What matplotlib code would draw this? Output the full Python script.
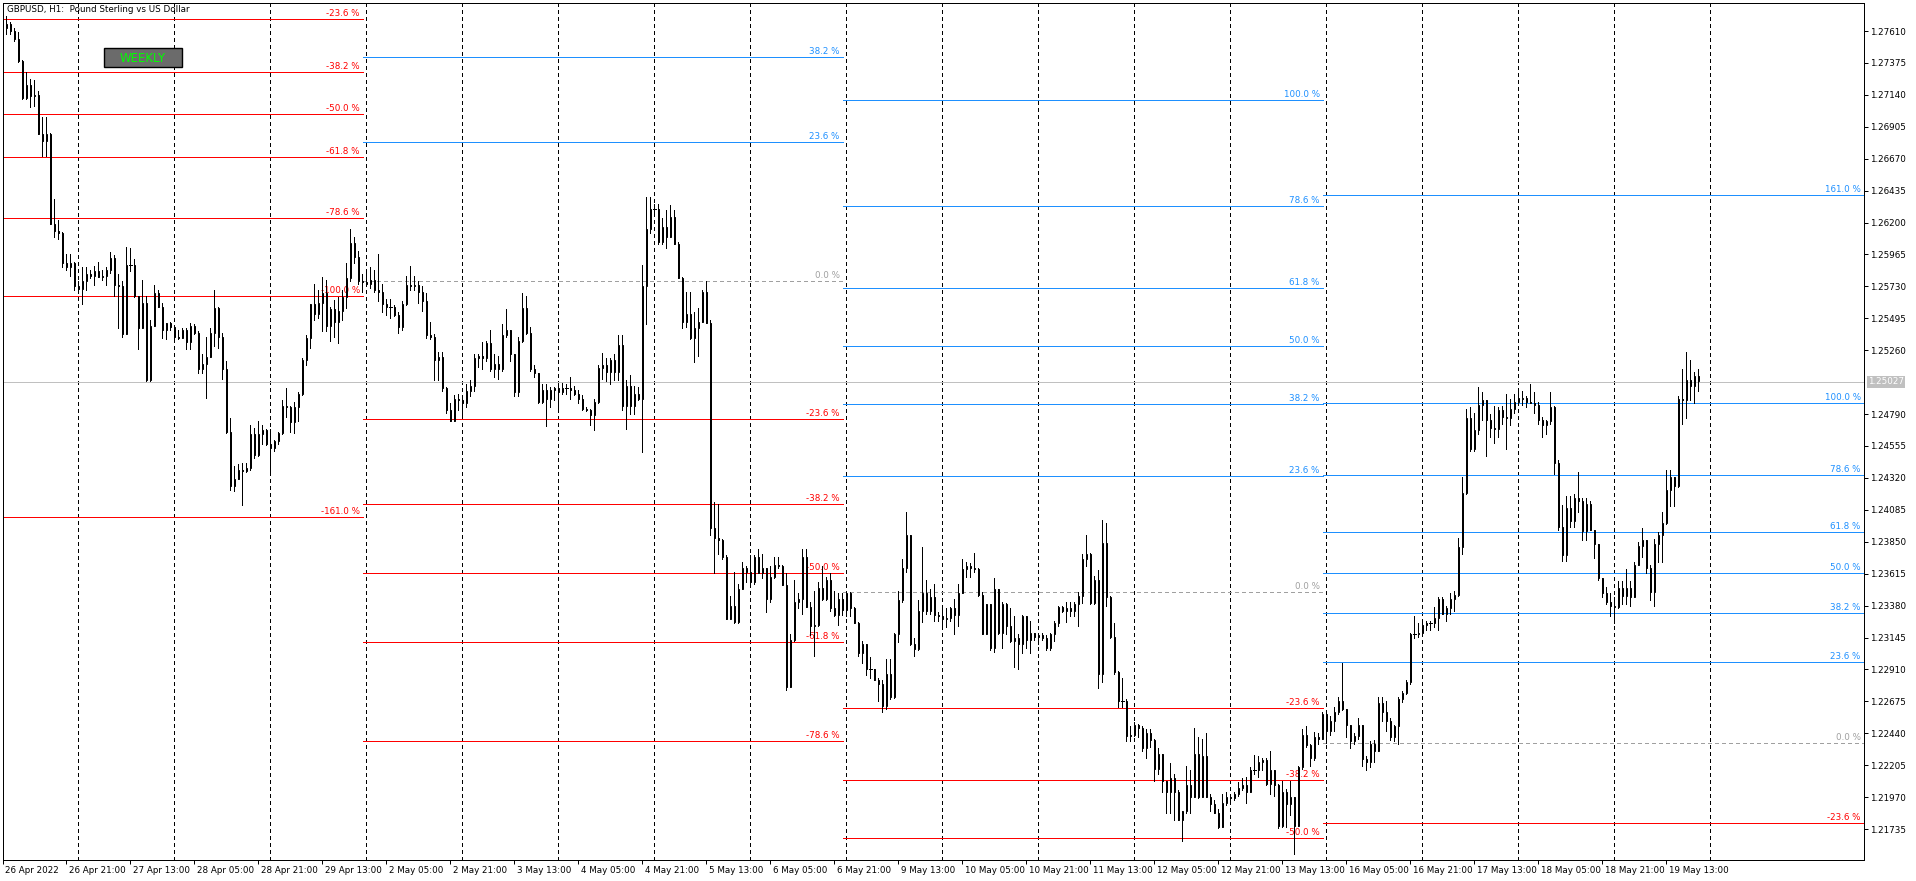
import numpy as np
import matplotlib
matplotlib.use('Agg')
import matplotlib.pyplot as plt
from matplotlib.patches import Rectangle
import matplotlib.transforms as mtransforms

# GBPUSD H1 bars, 26 Apr 2022 05:00 .. 19 May 2022 21:00 (weekends skipped)
# prices in pips above 1.2000
opens = [745,763,766,761,755,739,712,721,713,714, 685,680,685,619,614,612,590,587,590,573,
         571,577,582,581,584,580,581,585,594,574, 573,538,589,589,566,542,561,504,544,568,
         558,541,546,543,536,535,541,532,544,539, 512,516,521,539,557,536,512,466,426,431,
         438,437,439,464,449,464,467,457,454,459, 465,485,484,473,484,494,519,535,560,553,
         561,568,544,556,547,555,565,579,605,595, 577,576,575,578,570,569,560,558,558,552,
         543,560,574,573,574,569,562,537,536,519, 521,498,482,474,490,489,487,496,500,520,
         522,520,531,512,516,512,537,541,523,495, 533,557,539,512,509,488,497,490,497,498,
         495,498,498,497,494,490,483,482,478,488, 513,515,510,519,510,530,485,500,485,494,
         490,573,615,630,630,606,617,609,624,604, 579,547,553,535,542,547,569,546,395,388,
         386,374,328,338,326,350,366,363,355,374, 362,366,343,359,368,367,353,278,313,341,
         343,374,337,323,324,351,343,357,336,331, 343,335,347,336,325,303,310,291,291,283,
         280,264,288,271,317,342,366,390,310,306, 334,347,334,344,331,330,328,329,336,331,
         347,365,367,366,365,346,317,339,307,350, 318,339,323,312,314,310,330,313,318,315,
         316,314,307,317,325,337,334,336,334,339, 345,372,376,340,357,288,384,344,315,289,
         268,268,242,243,250,248,233,244,239,218, 229,209,201,211,201,180,187,206,197,229,
         197,227,197,192,185,175,193,197,196,199, 204,206,201,217,217,223,224,207,217,206,
         176,201,192,197,176,219,243,235,226,241, 240,258,246,253,260,268,262,250,238,242,
         250,225,223,236,231,266,260,253,241,249, 269,274,282,317,317,318,324,325,325,329,
         343,332,336,343,346,381,421,476,453,467, 486,489,475,469,468,482,477,476,483,488,
         490,491,488,487,486,475,471,474,484,443, 396,375,410,400,417,415,393,413,394,383,
         358,347,341,338,337,351,345,351,344,368, 382,386,366,348,383,390,399,423,433,426,
         490,489,504,500,507]
highs = [764,772,768,763,760,740,731,726,725,717, 698,698,686,637,622,613,597,597,591,577,
         587,587,585,588,591,585,587,598,596,582, 577,602,601,593,566,578,566,548,574,570,
         561,546,547,543,541,542,542,546,545,540, 523,536,542,570,558,539,518,476,441,442,
         443,443,471,469,474,471,468,468,460,466, 489,498,485,488,495,520,537,560,575,570,
         580,578,558,563,565,570,590,615,609,599, 582,584,587,585,597,575,564,564,559,554,
         562,581,588,581,577,573,568,547,538,525, 525,499,487,493,494,493,501,504,523,523,
         532,533,541,523,522,545,556,541,523,536, 568,566,543,515,509,501,501,499,499,501,
         502,501,506,500,497,493,484,483,490,515, 524,520,520,523,537,537,504,508,500,499,
         589,639,639,634,634,623,629,633,629,606, 580,569,569,554,557,570,577,548,414,413,
         387,375,345,363,354,370,367,375,375,380, 376,366,367,374,374,368,362,317,357,347,
         380,380,341,349,355,367,359,362,349,347, 347,348,348,337,326,312,310,300,291,285,
         283,299,299,318,349,372,407,390,314,342, 381,357,350,354,333,337,336,337,343,354,
         372,370,369,377,366,348,339,339,358,350, 341,340,336,330,317,331,330,327,318,317,
         318,316,318,327,338,338,341,341,341,348, 376,390,377,360,364,401,399,345,325,290,
         285,269,249,252,251,249,247,247,240,233, 229,209,222,214,202,187,220,217,248,241,
         240,244,199,195,188,199,201,198,201,208, 211,212,219,228,227,226,226,231,217,207,
         209,203,209,197,220,247,249,236,245,244, 260,260,257,263,271,296,262,250,244,255,
         250,227,238,239,271,271,268,255,250,271, 275,283,318,330,325,326,327,327,337,344,
         344,338,347,349,388,433,483,484,480,499, 495,489,479,485,484,485,494,490,494,495,
         496,492,501,495,488,477,475,495,485,445, 412,419,419,420,436,417,417,415,394,383,
         358,352,347,344,356,356,365,356,370,385, 395,386,368,387,392,407,438,438,433,492,
         512,525,519,510,512]
lows = [745,759,759,754,738,711,711,705,706,685, 669,669,619,609,608,587,585,581,570,569,
        560,570,579,574,580,578,574,583,566,542, 536,538,584,565,527,542,503,503,544,558,
        535,534,541,533,534,535,527,527,538,509, 509,491,521,529,528,505,465,423,422,431,
        412,436,438,447,448,457,456,436,452,457, 464,477,466,465,474,493,515,528,548,550,
        540,540,533,536,531,548,557,577,590,575, 569,574,572,569,562,554,552,550,551,539,
        541,559,570,570,561,555,535,534,504,504, 496,480,474,474,482,478,484,492,496,514,
        512,518,511,506,505,511,536,518,492,492, 532,538,511,506,487,487,470,484,489,483,
        494,494,490,493,487,482,481,471,467,487, 505,503,501,504,504,482,468,479,479,489,
        451,545,612,625,604,604,601,609,604,579, 542,543,534,517,522,547,546,390,362,376,
        372,328,328,325,325,350,355,354,354,362, 358,333,341,358,366,353,276,278,312,336,
        332,337,316,301,323,342,342,334,330,324, 331,330,330,325,301,296,287,285,283,268,
        260,262,269,270,311,341,363,309,301,305, 326,332,332,327,327,321,322,327,317,323,
        347,359,359,363,345,317,317,305,304,317, 307,317,311,293,291,303,307,303,313,310,
        313,305,305,312,323,333,326,330,330,323, 340,367,339,339,277,282,338,314,288,263,
        263,238,238,242,241,231,226,234,209,214, 201,185,185,180,180,165,185,185,197,196,
        197,197,187,185,174,175,191,193,195,198, 202,193,201,214,212,217,206,199,198,174,
        175,175,184,155,176,218,234,220,224,236, 240,237,243,246,258,261,241,233,236,240,
        220,217,219,223,231,253,246,239,238,236, 267,273,280,314,315,317,320,320,322,320,
        332,327,332,334,345,376,420,452,452,464, 475,448,462,458,462,472,453,471,480,486,
        486,484,487,480,472,462,464,472,435,394, 371,371,396,396,407,386,386,394,373,357,
        344,339,330,325,336,339,339,338,344,368, 374,362,342,338,370,370,398,411,411,425,
        472,476,489,487,496]
closes = [763,766,761,755,739,712,721,713,714,685, 680,685,619,614,612,590,587,590,573,571,
          577,582,581,584,580,581,585,594,574,573, 538,589,589,566,542,561,504,544,568,558,
          541,546,543,536,535,541,532,544,539,512, 516,521,539,557,536,512,466,426,431,438,
          437,439,464,449,464,467,457,454,459,465, 485,484,473,484,494,519,535,560,553,561,
          568,544,556,547,555,565,579,605,595,577, 576,575,578,570,569,560,558,558,552,543,
          560,574,573,574,569,562,537,536,519,521, 498,482,474,490,489,487,496,500,520,522,
          520,531,512,516,512,537,541,523,495,533, 557,539,512,509,488,497,490,497,498,495,
          498,498,497,494,490,483,482,478,488,513, 515,510,519,510,530,485,500,485,494,490,
          573,615,630,630,606,617,609,624,604,579, 547,553,535,542,547,569,546,395,388,386,
          374,328,338,326,350,366,363,355,374,362, 366,343,359,368,367,353,278,313,341,343,
          374,337,323,324,351,343,357,336,331,343, 335,347,336,325,303,310,291,291,283,280,
          264,288,271,317,342,366,390,310,306,334, 347,334,344,331,330,328,329,336,331,347,
          365,367,366,365,346,317,339,307,350,318, 339,323,312,314,310,330,313,318,315,316,
          314,307,317,325,337,334,336,334,339,345, 372,376,340,357,288,384,344,315,289,268,
          268,242,243,250,248,233,244,239,218,229, 209,201,211,201,180,187,206,197,229,197,
          227,197,192,185,175,193,197,196,199,204, 206,201,217,217,223,224,207,217,206,176,
          201,192,197,176,219,243,235,226,241,240, 258,246,253,260,268,262,250,238,242,250,
          225,223,236,231,266,260,253,241,249,269, 274,282,317,317,318,324,325,325,329,343,
          332,336,343,346,381,421,476,453,467,486, 489,475,469,468,482,477,476,483,488,491,
          491,488,487,486,475,471,474,484,443,396, 375,410,400,417,415,393,413,394,383,358,
          347,341,338,337,351,345,351,344,368,382, 386,366,348,383,390,399,423,433,426,490,
          489,504,500,507,503]

time_labels = ['26 Apr 2022', '26 Apr 21:00', '27 Apr 13:00', '28 Apr 05:00', '28 Apr 21:00',
               '29 Apr 13:00', '2 May 05:00', '2 May 21:00', '3 May 13:00', '4 May 05:00',
               '4 May 21:00', '5 May 13:00', '6 May 05:00', '6 May 21:00', '9 May 13:00',
               '10 May 05:00', '10 May 21:00', '11 May 13:00', '12 May 05:00', '12 May 21:00',
               '13 May 13:00', '16 May 05:00', '16 May 21:00', '17 May 13:00', '18 May 05:00',
               '18 May 21:00', '19 May 13:00']
price_ticks = [1.27610, 1.27375, 1.27140, 1.26905, 1.26670, 1.26435, 1.26200, 1.25965,
               1.25730, 1.25495, 1.25260, 1.24790, 1.24555, 1.24320, 1.24085, 1.23850,
               1.23615, 1.23380, 1.23145, 1.22910, 1.22675, 1.22440, 1.22205, 1.21970, 1.21735]
bid = 1.25027

# weekly fibonacci objects: 0% / 100% anchors and the bar where each week starts
fib_levels = [161.0, 100.0, 78.6, 61.8, 50.0, 38.2, 23.6, 0.0,
              -23.6, -38.2, -50.0, -61.8, -78.6, -100.0, -161.0]
fib_zero = [1.28329, 1.25773, 1.23480, 1.22372]
fib_full = [1.30996, 1.30082, 1.27100, 1.24875]
fib_from = [-30, 91, 211, 331]
fib_to = [91, 211, 331, 467]

o = 1.2 + np.array(opens) / 1e4
h = 1.2 + np.array(highs) / 1e4
l = 1.2 + np.array(lows) / 1e4
c = 1.2 + np.array(closes) / 1e4
x = np.arange(len(o))

plt.rcParams['font.family'] = ['DejaVu Sans']
FS = 6.3
LW = 0.72  # one pixel at 100 dpi
W, H = 1916, 881
fig = plt.figure(figsize=(W / 100, H / 100), dpi=100)
ax = fig.add_axes([2.5 / W, 1 - 860 / H, (1864 - 2.5) / W, (860 - 2.5) / H])
XMAX = 465.4
ax.set_xlim(0.05, XMAX)
ax.set_ylim(1.21507, 1.27820)

# day separators
for gx in np.arange(19, 430, 24):
    ax.axvline(gx, color='black', lw=LW, ls=(0, (3, 3)), zorder=1, antialiased=False)

# bid line
ax.axhline(bid, color='#c0c0c0', lw=LW, zorder=1, antialiased=False)

# fibonacci levels
ylo, yhi = ax.get_ylim()
for p0, p1, a, b in zip(fib_zero, fib_full, fib_from, fib_to):
    x0, x1 = a - 0.9, min(b - 0.9, XMAX - 0.05)
    for lev in fib_levels:
        p = p0 + lev / 100 * (p1 - p0)
        if not (ylo < p < yhi):
            continue
        if lev > 0:
            col, ls = '#1e90ff', '-'
        elif lev < 0:
            col, ls = '#ff0000', '-'
        else:
            col, ls = '#a0a0a0', (0, (4, 3))
        ax.hlines(p, x0, x1, colors=col, linestyles=ls, lw=LW, zorder=2, antialiased=False)
        ax.annotate(f'{lev:.1f} %', (x1, p), xytext=(-3, 3), textcoords='offset pixels',
                    ha='right', va='baseline', color=col, fontsize=FS, zorder=2)

# candles
up = c > o
dn = c < o
eq = c == o
ax.vlines(x, l, h, color='black', lw=LW, zorder=3, antialiased=False)
ax.bar(x[up], (c - o)[up], bottom=o[up], width=0.45, facecolor='white',
       edgecolor='black', lw=LW, zorder=4)
ax.bar(x[dn], (o - c)[dn], bottom=c[dn], width=0.45, facecolor='black',
       edgecolor='black', lw=LW, zorder=4)
ax.hlines(c[eq], x[eq] - 0.35, x[eq] + 0.35, color='black', lw=LW, zorder=4, antialiased=False)

# axes styling
for sp in ax.spines.values():
    sp.set_color('black')
    sp.set_linewidth(LW)
ax.yaxis.tick_right()
ax.set_yticks(price_ticks)
ax.set_yticklabels([f'{p:.5f}' for p in price_ticks])
ax.tick_params(axis='y', length=3, width=LW, pad=1, labelsize=FS, direction='out')

label_pos = np.arange(len(time_labels)) * 16
ax.set_xticks(label_pos)
ax.set_xticklabels([])
ax.tick_params(axis='x', length=3, width=LW, direction='out')
for xp, lab in zip(label_pos, time_labels):
    ax.text(xp + 0.6, -0.0152, lab, transform=ax.get_xaxis_transform(),
            ha='left', va='baseline', fontsize=FS, clip_on=False)

# current price box
trans = mtransforms.blended_transform_factory(ax.transAxes, ax.transData)
ax.annotate(f'{bid:.5f}', (1.0, bid), xycoords=trans, xytext=(4, 0), textcoords='offset pixels',
            ha='left', va='center', fontsize=FS, color='white', annotation_clip=False,
            bbox=dict(boxstyle='square,pad=0.15', fc='#c0c0c0', ec='none'), zorder=10)

# title and button
fig.text(7 / W, 1 - 12.5 / H, 'GBPUSD, H1:  Pound Sterling vs US Dollar',
         fontsize=FS, color='black', va='baseline', ha='left')
fig.add_artist(Rectangle((103.7 / W, 1 - 67.3 / H), 78.6 / W, 19 / H, transform=fig.transFigure,
                         facecolor='#6b6b6b', edgecolor='black', lw=1))
fig.text(143 / W, 1 - 58 / H, 'WEEKLY', fontsize=8.5, color='#00ff00',
         ha='center', va='center')

fig.savefig('out.png', dpi=100, facecolor='white')
